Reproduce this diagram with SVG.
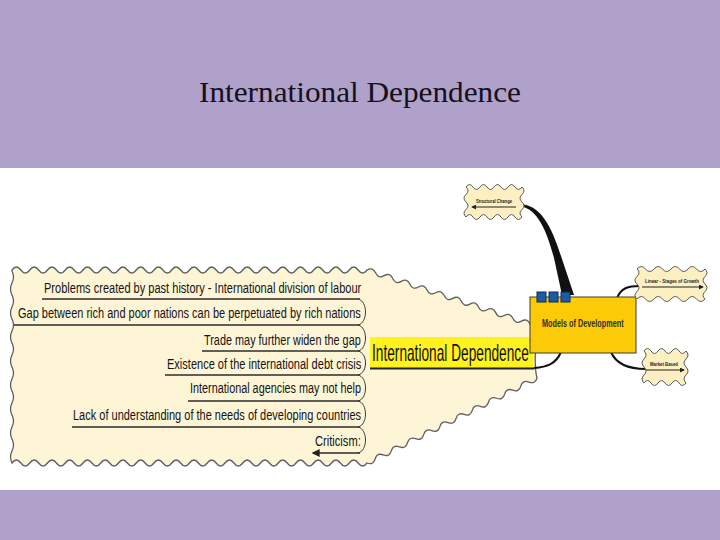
<svg xmlns="http://www.w3.org/2000/svg" width="720" height="540" viewBox="0 0 720 540">
<defs>
<style>
.band{fill:#AFA1C9}
.title{font-family:"Liberation Serif",serif;font-size:30px;fill:#151020}
.callout{fill:#FDF5D6;stroke:#5f5f5f;stroke-width:1.3}
.cloud{fill:#FCF0C2;stroke:#5a5a5a;stroke-width:1}
.item{font-family:"Liberation Sans",Arial,sans-serif;font-size:15px;fill:#141414}
.ul{fill:none;stroke:#2b2b2b;stroke-width:1.6}
.br{fill:none;stroke:#3a3a3a;stroke-width:1}
.tiny{font-family:"Liberation Sans",Arial,sans-serif;font-size:6px;font-weight:bold;fill:#222}
.conn{fill:none;stroke:#111;stroke-width:2}
.sq{fill:#1F5AA6;stroke:#0d2a55;stroke-width:1}
</style>
<marker id="ah" viewBox="0 0 6 6" refX="5" refY="3" markerWidth="5" markerHeight="5" orient="auto-start-reverse">
<path d="M0,0 L6,3 L0,6 Z" fill="#222"/>
</marker>
</defs>
<rect x="0" y="0" width="720" height="540" fill="#ffffff"/>
<rect class="band" x="0" y="0" width="720" height="168"/>
<rect class="band" x="0" y="490" width="720" height="50"/>
<text class="title" x="199" y="102" textLength="322" lengthAdjust="spacingAndGlyphs">International Dependence</text>

<g id="callout">
<path class="callout" d="M12,270 q4.44,-6 8.875,0 t8.875,0 8.875,0 8.875,0 8.875,0 8.875,0 8.875,0 8.875,0 8.875,0 8.875,0 8.875,0 8.875,0 8.875,0 8.875,0 8.875,0 8.875,0 8.875,0 8.875,0 8.875,0 8.875,0 8.875,0 8.875,0 8.875,0 8.875,0 8.875,0 8.875,0 8.875,0 8.875,0 8.875,0 8.875,0 8.875,0 8.875,0 8.875,0 8.875,0 8.875,0 8.875,0 8.875,0 8.875,0 8.875,0 8.875,0 q5.86,-3.33 8.579,2.842 t8.579,2.842 8.579,2.842 8.579,2.842 8.579,2.842 8.579,2.842 8.579,2.842 8.579,2.842 8.579,2.842 8.579,2.842 8.579,2.842 8.579,2.842 8.579,2.842 8.579,2.842 8.579,2.842 8.579,2.842 8.579,2.842 8.579,2.842 8.579,2.842 C540,340 532,360 537,378 q-1.81,6.49 -8.095,4.048 t-8.095,4.048 -8.095,4.048 -8.095,4.048 -8.095,4.048 -8.095,4.048 -8.095,4.048 -8.095,4.048 -8.095,4.048 -8.095,4.048 -8.095,4.048 -8.095,4.048 -8.095,4.048 -8.095,4.048 -8.095,4.048 -8.095,4.048 -8.095,4.048 -8.095,4.048 -8.095,4.048 -8.095,4.048 -8.095,4.048 q-4.44,6 -8.875,0 t-8.875,0 -8.875,0 -8.875,0 -8.875,0 -8.875,0 -8.875,0 -8.875,0 -8.875,0 -8.875,0 -8.875,0 -8.875,0 -8.875,0 -8.875,0 -8.875,0 -8.875,0 -8.875,0 -8.875,0 -8.875,0 -8.875,0 -8.875,0 -8.875,0 -8.875,0 -8.875,0 -8.875,0 -8.875,0 -8.875,0 -8.875,0 -8.875,0 -8.875,0 -8.875,0 -8.875,0 -8.875,0 -8.875,0 -8.875,0 -8.875,0 -8.875,0 -8.875,0 -8.875,0 -8.875,0 q-3,-6 0,-12 t0,-12 0,-12 0,-12 0,-12 0,-12 0,-12 0,-12 0,-12 0,-12 0,-12 0,-12 0,-12 0,-12 0,-12 0,-12 Z"/>
</g>

<g id="items">
<text class="item" transform="translate(44,293) scale(0.75,1)" textLength="423" lengthAdjust="spacingAndGlyphs">Problems created by past history - International division of labour</text>
<path class="ul" d="M42,299 H360"/>
<text class="item" transform="translate(18,318) scale(0.75,1)" textLength="457" lengthAdjust="spacingAndGlyphs">Gap between rich and poor nations can be perpetuated by rich nations</text>
<path class="ul" d="M14,325 H360"/>
<path class="br" d="M358,299 C368,301 368,323 358,325"/>
<text class="item" transform="translate(204,345) scale(0.75,1)" textLength="209" lengthAdjust="spacingAndGlyphs">Trade may further widen the gap</text>
<path class="ul" d="M202,351 H360"/>
<path class="br" d="M358,325 C368,327 368,349 358,351"/>
<text class="item" transform="translate(167,369) scale(0.75,1)" textLength="259" lengthAdjust="spacingAndGlyphs">Existence of the international debt crisis</text>
<path class="ul" d="M165,375 H360"/>
<path class="br" d="M358,351 C368,353 368,373 358,375"/>
<text class="item" transform="translate(190,393) scale(0.75,1)" textLength="228" lengthAdjust="spacingAndGlyphs">International agencies may not help</text>
<path class="ul" d="M188,401 H360"/>
<path class="br" d="M358,375 C368,377 368,399 358,401"/>
<text class="item" transform="translate(73,420) scale(0.75,1)" textLength="384" lengthAdjust="spacingAndGlyphs">Lack of understanding of the needs of developing countries</text>
<path class="ul" d="M72,427 H360"/>
<path class="br" d="M358,401 C368,403 368,425 358,427"/>
<text class="item" transform="translate(315,446) scale(0.75,1)" textLength="61" lengthAdjust="spacingAndGlyphs">Criticism:</text>
<path class="br" d="M358,427 C368,429 368,451 358,453"/>
<path class="ul" d="M360,453 H313" stroke-width="1" marker-end="url(#ah)"/>
</g>

<g id="connectors">
<path d="M517,206 C536,206 546,228 554,258 L562,295 L574,295 L561,256 C551,225 540,203 517,204 Z" fill="#111"/>
<path class="conn" d="M617,298 C621,288 628,286 640,286"/>
<path class="conn" d="M611,352 C616,364 628,369 646,369"/>
<path class="conn" d="M561,352 C556,364 547,367 534,368" stroke-width="1.5"/>
</g>

<g id="central">
<rect x="370" y="337" width="163" height="31" fill="#FFF21F"/>
<path d="M370,368.5 H534" stroke="#222" stroke-width="2"/>
<text transform="translate(372,361) scale(0.7,1)" font-family="Liberation Sans,Arial,sans-serif" font-size="23" fill="#111" textLength="224" lengthAdjust="spacingAndGlyphs">International Dependence</text>
</g>

<g id="models">
<rect x="530" y="297" width="106" height="56" fill="#FBCB08" stroke="#3a3a3a" stroke-width="1"/>
<rect class="sq" x="537" y="292" width="9" height="10"/>
<rect class="sq" x="549" y="292" width="9" height="10"/>
<rect class="sq" x="561" y="292" width="9" height="10"/>
<text transform="translate(542,327) scale(0.8,1)" font-family="Liberation Sans,Arial,sans-serif" font-size="10" font-weight="bold" fill="#333028" textLength="102" lengthAdjust="spacingAndGlyphs">Models of Development</text>
</g>

<g id="structural">
<path class="cloud" d="M466,187 q3.5,-5 7,0 t7,0 7,0 7,0 7,0 7,0 7,0 7,0 q4,3.75 0,7.5 t0,7.5 0,7.5 0,7.5 q-3.5,5 -7,0 t-7,0 -7,0 -7,0 -7,0 -7,0 -7,0 -7,0 q-4,-3.75 0,-7.5 t0,-7.5 0,-7.5 0,-7.5 Z"/>
<text class="tiny" x="476" y="203" textLength="36" lengthAdjust="spacingAndGlyphs">Structural Change</text>
<path d="M516,207 H472" stroke="#222" stroke-width="1" marker-end="url(#ah)"/>
</g>

<g id="linear">
<path class="cloud" d="M637,269 q4.25,-5 8.5,0 t8.5,0 8.5,0 8.5,0 8.5,0 8.5,0 8.5,0 8.5,0 q4,3.75 0,7.5 t0,7.5 0,7.5 0,7.5 q-4.25,5 -8.5,0 t-8.5,0 -8.5,0 -8.5,0 -8.5,0 -8.5,0 -8.5,0 -8.5,0 q-4,-3.75 0,-7.5 t0,-7.5 0,-7.5 0,-7.5 Z"/>
<text class="tiny" x="645" y="283" textLength="54" lengthAdjust="spacingAndGlyphs">Linear - Stages of Growth</text>
<path d="M642,287 H703" stroke="#222" stroke-width="1" marker-end="url(#ah)"/>
</g>

<g id="market">
<path class="cloud" d="M644,351 q3.5,-5 7,0 t7,0 7,0 7,0 7,0 7,0 q4,4 0,8 t0,8 0,8 0,8 q-3.5,5 -7,0 t-7,0 -7,0 -7,0 -7,0 -7,0 q-4,-4 0,-8 t0,-8 0,-8 0,-8 Z"/>
<text class="tiny" x="650" y="366" textLength="28" lengthAdjust="spacingAndGlyphs">Market Based</text>
<path d="M646,370 H684" stroke="#222" stroke-width="1" marker-end="url(#ah)"/>
</g>
</svg>
